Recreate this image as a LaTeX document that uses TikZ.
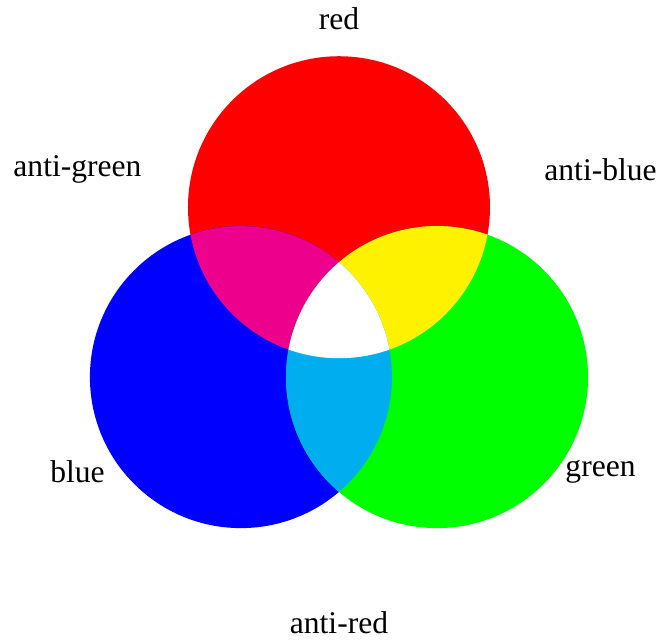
\documentclass[tikz,border=0pt]{standalone}
\usepackage{fontspec}
\setmainfont{Liberation Serif}
\definecolor{cmyM}{HTML}{EC008C}
\definecolor{cmyY}{HTML}{FFF200}
\definecolor{cmyC}{HTML}{00AEEF}
\tikzset{lbl/.style={font=\fontsize{11.9}{14}\selectfont}}
\begin{document}
\begin{tikzpicture}
\useasboundingbox (-4.490,-4.219) rectangle (4.252,4.245);
\coordinate (R) at (90:1.5);
\coordinate (B) at (210:1.5);
\coordinate (G) at (330:1.5);
\fill[red] (R) circle (2);
\fill[blue] (B) circle (2);
\fill[green] (G) circle (2);
\begin{scope}
  \clip (R) circle (2);
  \fill[cmyM] (B) circle (2);
\end{scope}
\begin{scope}
  \clip (R) circle (2);
  \fill[cmyY] (G) circle (2);
\end{scope}
\begin{scope}
  \clip (B) circle (2);
  \fill[cmyC] (G) circle (2);
\end{scope}
\begin{scope}
  \clip (R) circle (2);
  \clip (B) circle (2);
  \fill[white] (G) circle (2);
\end{scope}
\node[lbl] (lr) at (90:4) {red};
\node[lbl] (lab) at (30:4) {anti-blue};
\node[lbl] (lag) at (150:4) {anti-green};
\node[lbl] (lb) at (210:4) {blue};
\node[lbl] (lar) at (270:4) {anti-red};
\node[lbl] (lg) at (330:4) {green};
\end{tikzpicture}
\end{document}
